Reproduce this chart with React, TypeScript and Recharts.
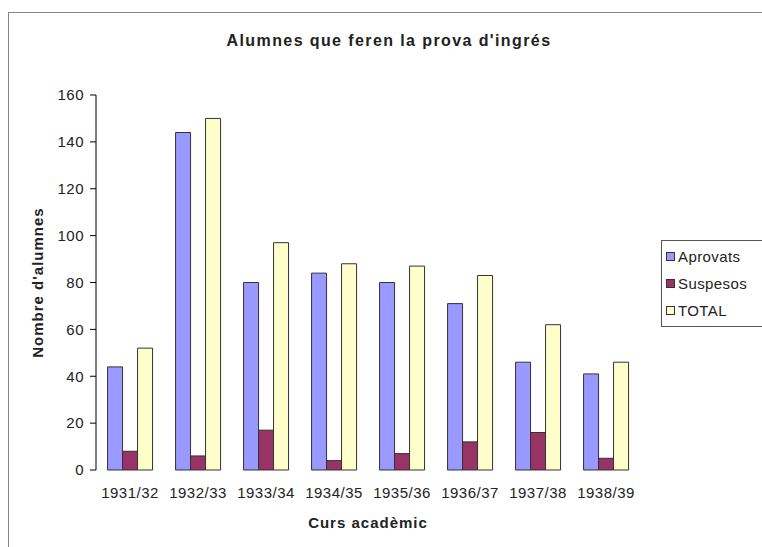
import React from 'react';
import { BarChart, Bar, XAxis, YAxis } from 'recharts';

const cursos = ['1931/32', '1932/33', '1933/34', '1934/35', '1935/36', '1936/37', '1937/38', '1938/39'];
const aprovats = [44, 144, 80, 84, 80, 71, 46, 41];
const suspesos = [8, 6, 17, 4, 7, 12, 16, 5];
const total = [52, 150, 97, 88, 87, 83, 62, 46];
const yTicks = [0, 20, 40, 60, 80, 100, 120, 140, 160];
const boundaryTicks = [0, 1, 2, 3, 4, 5, 6, 7, 8];

const series = [
    { key: 'Aprovats', fill: '#9999ff' },
    { key: 'Suspesos', fill: '#993366' },
    { key: 'TOTAL', fill: '#ffffcc' },
];

const data = cursos.map((curs, i) => ({
    curs,
    idx: i + 0.5,
    Aprovats: aprovats[i],
    Suspesos: suspesos[i],
    TOTAL: total[i],
}));

const font = '"Liberation Sans", Arial, sans-serif';

const LegendBox = () => (
    <div
        style={{
            position: 'absolute',
            left: 661,
            top: 240,
            border: '1px solid #555',
            padding: '2px 6px 2px 4px',
            background: '#fff',
            fontFamily: font,
            fontSize: 15,
            letterSpacing: 0.4,
            color: '#222',
            width: 120,
        }}
    >
        {series.map(s => (
            <div key={s.key} style={{ display: 'flex', alignItems: 'center', height: 27 }}>
                <span
                    style={{
                        display: 'inline-block',
                        width: 7,
                        height: 7,
                        background: s.fill,
                        border: '1px solid #333',
                        marginRight: 3,
                    }}
                />
                {s.key}
            </div>
        ))}
    </div>
);

const App: React.FC = () => {
    return (
        <div
            style={{
                position: 'absolute',
                left: 0,
                top: 0,
                width: 762,
                height: 547,
                overflow: 'hidden',
                background: '#fff',
                fontFamily: font,
            }}
        >
            <div
                style={{
                    position: 'absolute',
                    left: 8,
                    top: 12,
                    width: 800,
                    height: 600,
                    border: '1px solid #888',
                    boxSizing: 'border-box',
                }}
            />
            <div
                style={{
                    position: 'absolute',
                    left: 8,
                    top: 32,
                    width: 762,
                    textAlign: 'center',
                    fontSize: 16,
                    fontWeight: 'bold',
                    letterSpacing: 1.4,
                    color: '#222',
                }}
            >
                Alumnes que feren la prova d'ingrés
            </div>
            <div style={{ position: 'absolute', left: 0, top: 0 }}>
                <BarChart
                    width={762}
                    height={547}
                    data={data}
                    margin={{ top: 95, right: 122, bottom: 17, left: 0 }}
                    barCategoryGap="17%"
                    barGap={0}
                >
                    <XAxis
                        xAxisId="edges"
                        dataKey="idx"
                        type="number"
                        domain={[0, 8]}
                        ticks={boundaryTicks}
                        tick={false}
                        tickSize={5}
                        height={0}
                        stroke="#000"
                        axisLine={{ stroke: '#000' }}
                        tickLine={{ stroke: '#000' }}
                    />
                    <XAxis
                        xAxisId="cat"
                        dataKey="curs"
                        height={60}
                        axisLine={false}
                        tickLine={false}
                        tickSize={0}
                        tickMargin={17}
                        tick={{ fill: '#222', fontSize: 15, fontFamily: font, letterSpacing: 0.5 }}
                        interval={0}
                        label={{
                            value: 'Curs acadèmic',
                            position: 'insideBottom',
                            offset: 2,
                            style: { fill: '#222', fontSize: 15, fontWeight: 'bold', fontFamily: font, letterSpacing: 1 },
                        }}
                    />
                    <YAxis
                        width={96}
                        domain={[0, 160]}
                        ticks={yTicks}
                        tickSize={6}
                        tickMargin={6}
                        stroke="#000"
                        tick={{ fill: '#222', fontSize: 15, fontFamily: font, letterSpacing: 0.5 }}
                        label={{
                            value: "Nombre d'alumnes",
                            angle: -90,
                            position: 'insideLeft',
                            offset: 38,
                            style: { textAnchor: 'middle', fill: '#222', fontSize: 15, fontWeight: 'bold', fontFamily: font, letterSpacing: 1 },
                        }}
                    />
                    {series.map(s => (
                        <Bar
                            key={s.key}
                            xAxisId="cat"
                            dataKey={s.key}
                            fill={s.fill}
                            stroke="#333"
                            strokeWidth={1}
                            isAnimationActive={false}
                        />
                    ))}
                </BarChart>
            </div>
            <LegendBox />
        </div>
    );
};

export default App;
